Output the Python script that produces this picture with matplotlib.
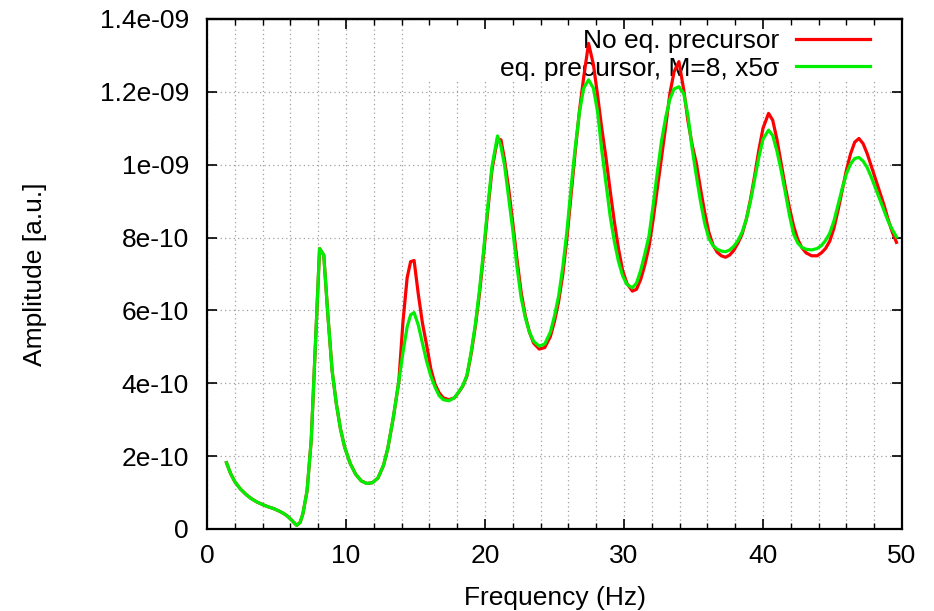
import numpy as np
import matplotlib
matplotlib.use("Agg")
import matplotlib.pyplot as plt
from matplotlib.patches import Rectangle
from matplotlib.ticker import MultipleLocator, FixedLocator, FixedFormatter, NullFormatter

# Spectral amplitude, in units of 1e-10 a.u.
freq_hz = [1.4, 1.7, 2.0, 2.4, 2.8, 3.2, 3.6, 4.0, 4.4, 4.8,
           5.2, 5.5, 5.8, 6.1, 6.45, 6.7, 6.9, 7.2, 7.5, 7.8,
           8.1, 8.4, 8.7, 9.0, 9.3, 9.6, 9.9, 10.3, 10.7, 11.1,
           11.5, 11.9, 12.3, 12.7, 13.0, 13.4, 13.8,
           14.1, 14.4, 14.65, 14.9, 15.2, 15.5, 15.8, 16.1, 16.4, 16.7,
           17.0, 17.4, 17.8, 18.1, 18.4, 18.7, 19.0, 19.3, 19.6, 19.9,
           20.2, 20.5, 20.9, 21.15, 21.4, 21.7, 22.0, 22.3, 22.6, 22.9,
           23.2, 23.5, 23.9, 24.3, 24.7, 25.0, 25.3, 25.6, 25.9, 26.2,
           26.5, 26.8, 27.1, 27.45, 27.8, 28.1, 28.4, 28.7, 29.0, 29.3,
           29.6, 29.9, 30.2, 30.6, 30.9, 31.2, 31.5, 31.8, 32.1, 32.4,
           32.7, 33.0, 33.3, 33.6, 33.95, 34.3, 34.6, 34.9, 35.2, 35.5,
           35.8, 36.1, 36.4, 36.7, 37.0, 37.3, 37.6, 37.9, 38.2, 38.5,
           38.8, 39.1, 39.4, 39.7, 40.0, 40.4, 40.7, 41.0, 41.3, 41.6,
           41.9, 42.2, 42.5, 42.8, 43.1, 43.5, 43.9, 44.2, 44.5, 44.8,
           45.1, 45.4, 45.7, 46.0, 46.3, 46.6, 46.9, 47.2, 47.5, 47.8,
           48.1, 48.4, 48.7, 49.0, 49.3, 49.6]

# Both spectra coincide below ~14 Hz
low_band = [1.82, 1.52, 1.30, 1.10, 0.95, 0.83, 0.74, 0.67, 0.61, 0.56,
            0.49, 0.43, 0.35, 0.24, 0.10, 0.18, 0.42, 1.05, 2.45, 5.1,
            7.7, 7.52, 5.85, 4.35, 3.45, 2.75, 2.25, 1.80, 1.50, 1.32,
            1.25, 1.27, 1.40, 1.75, 2.20, 3.05, 4.05]

no_precursor_hi = [5.7, 6.9, 7.34, 7.37, 6.45, 5.65, 5.05, 4.4, 3.98, 3.74,
                   3.6, 3.55, 3.6, 3.75, 3.92, 4.2, 4.8, 5.55, 6.45, 7.55,
                   8.75, 9.85, 10.72, 10.68, 10.15, 9.35, 8.4, 7.4, 6.5, 5.85,
                   5.4, 5.1, 4.94, 4.98, 5.28, 5.7, 6.25, 7.0, 8.0, 9.2,
                   10.4, 11.5, 12.4, 13.33, 12.75, 11.9, 11.0, 10.2, 9.3, 8.45,
                   7.7, 7.1, 6.75, 6.53, 6.58, 6.85, 7.25, 7.75, 8.5, 9.35,
                   10.2, 11.05, 11.95, 12.55, 12.83, 12.05, 11.2, 10.55, 10.05, 9.35,
                   8.7, 8.15, 7.8, 7.6, 7.5, 7.46, 7.52, 7.65, 7.85, 8.1,
                   8.5, 9.05, 9.7, 10.4, 11.0, 11.41, 11.22, 10.7, 10.05, 9.4,
                   8.82, 8.32, 7.95, 7.72, 7.58, 7.5, 7.5, 7.58, 7.7, 7.9,
                   8.25, 8.75, 9.3, 9.85, 10.3, 10.62, 10.72, 10.58, 10.3, 9.95,
                   9.6, 9.25, 8.9, 8.5, 8.15, 7.87]

with_precursor_hi = [4.85, 5.55, 5.88, 5.94, 5.6, 5.1, 4.6, 4.2, 3.9, 3.66,
                     3.55, 3.52, 3.6, 3.76, 3.93, 4.22, 4.85, 5.6, 6.55, 7.65,
                     8.85, 9.95, 10.79, 10.5, 10.0, 9.1, 8.2, 7.2, 6.35, 5.8,
                     5.4, 5.15, 5.02, 5.08, 5.4, 5.85, 6.4, 7.2, 8.2, 9.4,
                     10.5, 11.45, 12.1, 12.33, 12.1, 11.45, 10.4, 9.5, 8.6, 7.9,
                     7.35, 6.95, 6.72, 6.62, 6.75, 7.1, 7.55, 8.05, 8.9, 9.8,
                     10.65, 11.3, 11.8, 12.08, 12.14, 11.95, 11.35, 10.45, 9.7, 9.0,
                     8.4, 7.98, 7.78, 7.68, 7.63, 7.61, 7.66, 7.76, 7.92, 8.15,
                     8.5, 9.0, 9.6, 10.2, 10.7, 10.95, 10.8, 10.38, 9.85, 9.25,
                     8.62, 8.1, 7.85, 7.73, 7.68, 7.66, 7.7, 7.78, 7.92, 8.12,
                     8.45, 8.9, 9.35, 9.75, 10.02, 10.17, 10.2, 10.1, 9.92, 9.65,
                     9.35, 9.05, 8.75, 8.45, 8.22, 8.02]

y_tick_values = [0, 2e-10, 4e-10, 6e-10, 8e-10, 1e-9, 1.2e-9, 1.4e-9]
y_tick_labels = ["0", "2e-10", "4e-10", "6e-10", "8e-10", "1e-09", "1.2e-09", "1.4e-09"]

f = np.array(freq_hz)
amp_red = np.array(low_band + no_precursor_hi) * 1e-10
amp_green = np.array(low_band + with_precursor_hi) * 1e-10

plt.rcParams["font.family"] = ["Liberation Sans", "DejaVu Sans"]

fig = plt.figure(figsize=(9.34, 6.11), dpi=100)
ax = fig.add_axes([207 / 934, 82 / 611, 695 / 934, 510 / 611])

ax.plot(f, amp_red, color="#ff0000", lw=2.3, label="No eq. precursor", zorder=3)
ax.plot(f, amp_green, color="#00ee00", lw=2.3, label="eq. precursor, M=8, x5σ", zorder=4)

ax.set_xlim(0, 50)
ax.set_ylim(0, 1.4e-9)

ax.xaxis.set_major_locator(MultipleLocator(10))
ax.xaxis.set_minor_locator(MultipleLocator(2))
ax.yaxis.set_major_locator(FixedLocator(y_tick_values))
ax.yaxis.set_major_formatter(FixedFormatter(y_tick_labels))

ax.grid(True, which="both", axis="x", color="#a0a0a0", linestyle=(0, (1, 2.5)), lw=0.9)
ax.grid(True, which="major", axis="y", color="#a0a0a0", linestyle=(0, (1, 2.5)), lw=0.9)
ax.set_axisbelow(True)

ax.tick_params(which="major", direction="in", length=7, width=1.2,
               top=False, right=True, labelsize=19, colors="black")
ax.tick_params(axis="y", which="major", pad=13)
ax.tick_params(axis="x", which="major", pad=11)
ax.tick_params(which="minor", direction="in", length=4, width=1.0,
               top=False, right=True)
for s in ax.spines.values():
    s.set_linewidth(1.6)
    s.set_color("black")
    s.set_zorder(6)

# Top-edge ticks on their own axis so they stay above the key's backdrop
top = ax.secondary_xaxis("top")
top.xaxis.set_major_locator(MultipleLocator(10))
top.xaxis.set_minor_locator(MultipleLocator(2))
top.xaxis.set_major_formatter(NullFormatter())
top.tick_params(which="major", direction="in", length=7, width=1.2)
top.tick_params(which="minor", direction="in", length=4, width=1.0)
top.spines["top"].set_linewidth(1.6)
top.set_zorder(7)

# Opaque backdrop of the key, hiding the grid behind it
ax.add_patch(Rectangle((0.30, 0.88), 0.70, 0.12, transform=ax.transAxes,
                       facecolor="white", edgecolor="none", zorder=2.55))

ax.set_xlabel("Frequency (Hz)", fontsize=19, labelpad=12.5)
ax.set_ylabel("Amplitude [a.u.]", fontsize=19, labelpad=38)

leg = ax.legend(loc="upper right", bbox_to_anchor=(0.9655, 0.996),
                markerfirst=False, fontsize=19,
                frameon=False, handlelength=2.8,
                handletextpad=0.65, labelspacing=0.14, borderpad=0.3,
                borderaxespad=0.0)
leg.set_zorder(2.6)

fig.savefig("out.png", dpi=100, facecolor="white")
